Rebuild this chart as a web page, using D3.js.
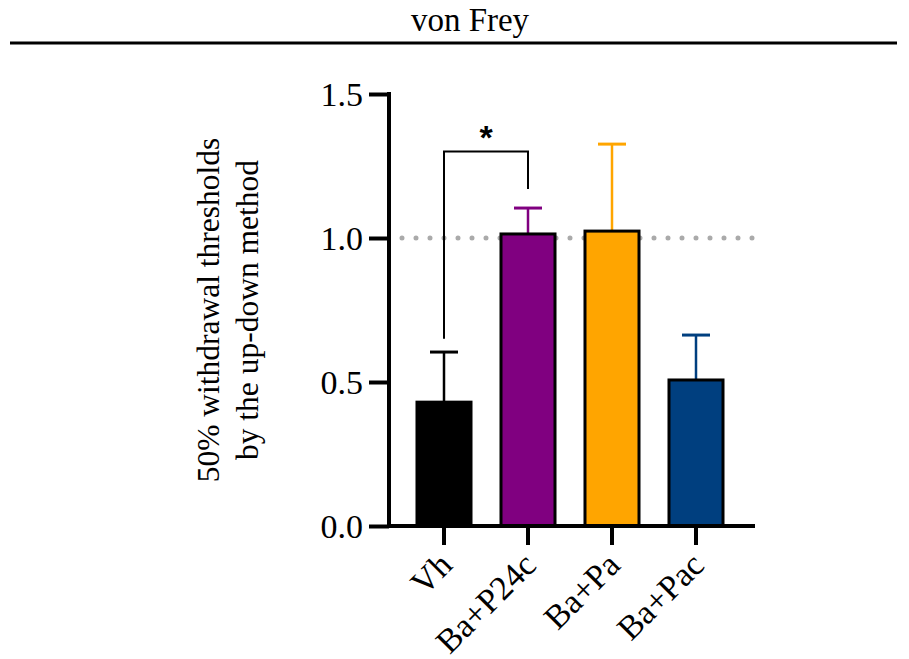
<!DOCTYPE html>
<html>
<head>
<meta charset="utf-8">
<script src="https://cdn.jsdelivr.net/npm/d3@7"></script>
<style>
    body { margin: 0; background: #fff; }
    svg { display: block; }
    text { font-family: "Liberation Serif", "Times New Roman", serif; fill: #000; }
</style>
</head>
<body>
<div id="chart"></div>
<script>
// Data
const groups = ["Vh", "Ba+P24c", "Ba+Pa", "Ba+Pac"];
const means = [0.43, 1.014, 1.024, 0.507];
const sems = [0.174, 0.09, 0.302, 0.156];
const colors = ["#000000", "#800080", "#FFA500", "#003F7F"];
const yTicks = [0.0, 0.5, 1.0, 1.5];
const refLine = 1.0;
// significance bracket: from group, to group, y levels (left end, top, right end)
const sig = { from: "Vh", to: "Ba+P24c", yLeft: 0.65, yTop: 1.3, yRight: 1.17, label: "*" };

const width = 909;
const height = 659;
const serif = "'Liberation Serif', 'Times New Roman', serif";

const svg = d3.select("#chart")
    .append("svg")
    .attr("width", width)
    .attr("height", height);

// Title and rule
svg.append("text")
    .attr("x", 470)
    .attr("y", 31)
    .attr("text-anchor", "middle")
    .style("font-size", "33px")
    .text("von Frey");

svg.append("line")
    .attr("x1", 10).attr("x2", 897)
    .attr("y1", 43).attr("y2", 43)
    .attr("stroke", "#000")
    .attr("stroke-width", 3);

// Scales
const y = d3.scaleLinear()
    .domain([0, 1.5])
    .range([526, 94]);

const x = d3.scaleBand()
    .domain(groups)
    .range([402, 738])
    .paddingInner(0.357)
    .paddingOuter(0.1785);

const axisX0 = 389;
const axisX1 = 755;

// Reference dotted line
svg.append("line")
    .attr("x1", 402).attr("x2", axisX1)
    .attr("y1", y(refLine)).attr("y2", y(refLine))
    .attr("stroke", "#aaaaaa")
    .attr("stroke-width", 5)
    .attr("stroke-linecap", "round")
    .attr("stroke-dasharray", "0 14");

// Error bars (upper only)
const err = svg.append("g");
groups.forEach((g, i) => {
    const cx = x(g) + x.bandwidth() / 2;
    err.append("line")
        .attr("x1", cx).attr("x2", cx)
        .attr("y1", y(means[i])).attr("y2", y(means[i] + sems[i]))
        .attr("stroke", colors[i])
        .attr("stroke-width", 2.5);
    err.append("line")
        .attr("x1", cx - 14).attr("x2", cx + 14)
        .attr("y1", y(means[i] + sems[i])).attr("y2", y(means[i] + sems[i]))
        .attr("stroke", colors[i])
        .attr("stroke-width", 3);
});

// Bars
svg.append("g")
    .selectAll("rect")
    .data(groups)
    .enter().append("rect")
    .attr("x", d => x(d))
    .attr("y", (d, i) => y(means[i]))
    .attr("width", x.bandwidth())
    .attr("height", (d, i) => y(0) - y(means[i]))
    .attr("fill", (d, i) => colors[i])
    .attr("stroke", "#000")
    .attr("stroke-width", 3);

// Significance bracket
const sx1 = x(sig.from) + x.bandwidth() / 2;
const sx2 = x(sig.to) + x.bandwidth() / 2;
svg.append("path")
    .attr("d", `M${sx1},${y(sig.yLeft)}V${y(sig.yTop)}H${sx2}V${y(sig.yRight)}`)
    .attr("fill", "none")
    .attr("stroke", "#000")
    .attr("stroke-width", 2);

svg.append("text")
    .attr("x", (sx1 + sx2) / 2)
    .attr("y", 149)
    .attr("text-anchor", "middle")
    .style("font-family", "'Liberation Sans', Arial, sans-serif")
    .style("font-weight", "bold")
    .style("font-size", "34px")
    .text(sig.label);

// Y axis
const yAxis = svg.append("g")
    .attr("transform", `translate(${axisX0},0)`)
    .call(d3.axisLeft(y)
        .tickValues(yTicks)
        .tickFormat(d3.format(".1f"))
        .tickSize(20)
        .tickSizeOuter(0)
        .tickPadding(6));

yAxis.select(".domain")
    .attr("stroke-width", 4)
    .attr("d", `M0,${y(1.5) - 2}V${y(0) + 2}`);
yAxis.selectAll(".tick line").attr("stroke-width", 4);
yAxis.selectAll(".tick text")
    .style("font-family", serif)
    .style("font-size", "34px")
    .attr("dy", "0.34em");

// X axis
svg.append("line")
    .attr("x1", axisX0 - 2).attr("x2", axisX1)
    .attr("y1", y(0)).attr("y2", y(0))
    .attr("stroke", "#000")
    .attr("stroke-width", 4);

const xAxis = svg.append("g")
    .attr("transform", `translate(0,${y(0)})`)
    .call(d3.axisBottom(x).tickSize(19).tickSizeOuter(0));

xAxis.select(".domain").remove();
xAxis.selectAll(".tick line").attr("stroke-width", 4);
xAxis.selectAll(".tick text")
    .style("font-family", serif)
    .style("font-size", "34px")
    .attr("text-anchor", "end")
    .attr("dy", 0)
    .attr("y", 0)
    .attr("transform", "translate(10,41) rotate(-45)");

// Y axis title
svg.append("text")
    .attr("transform", "translate(219,310) rotate(-90)")
    .attr("text-anchor", "middle")
    .style("font-size", "31.5px")
    .text("50% withdrawal thresholds");

svg.append("text")
    .attr("transform", "translate(258,310) rotate(-90)")
    .attr("text-anchor", "middle")
    .style("font-size", "31.5px")
    .text("by the up-down method");
</script>
</body>
</html>
